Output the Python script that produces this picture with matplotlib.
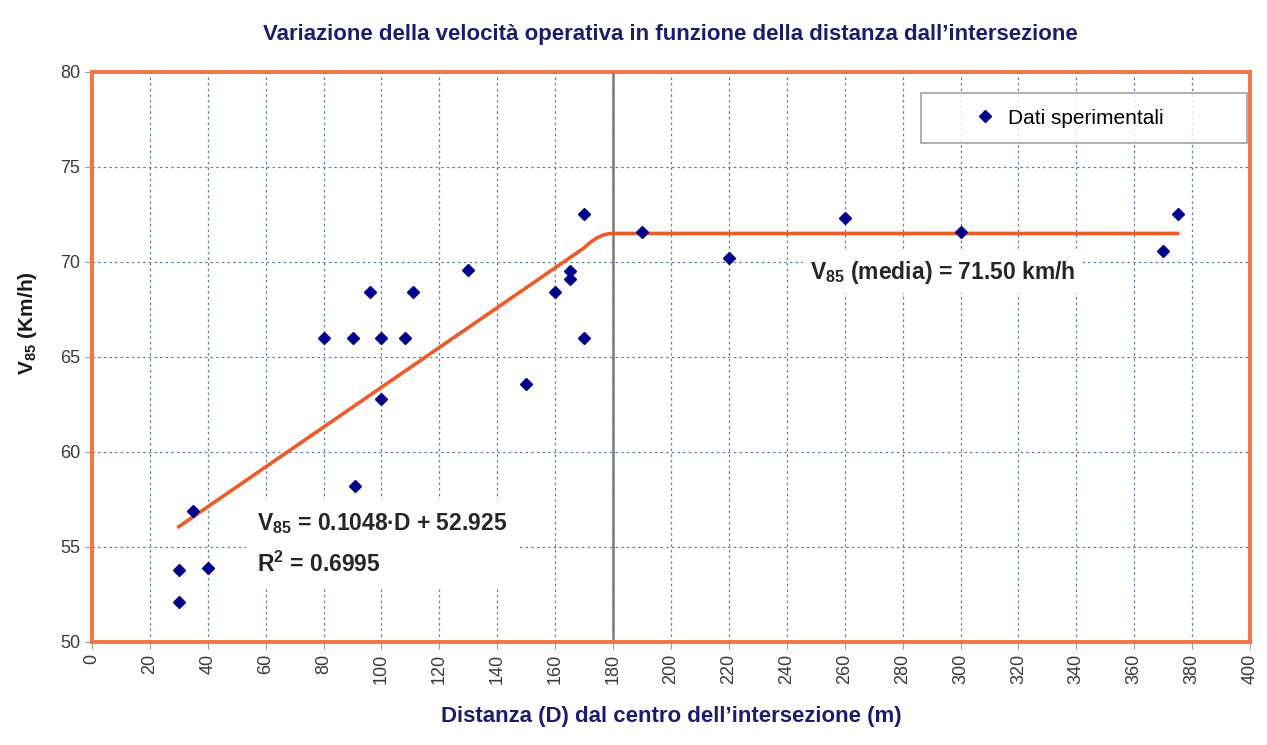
import matplotlib
matplotlib.use('Agg')
import matplotlib.pyplot as plt
import numpy as np

# Dati
distanza = [30, 30, 35, 40, 80, 90, 91, 96, 100, 100, 108, 111, 130, 150, 160,
            165, 165, 170, 170, 190, 220, 260, 300, 370, 375]
v85 = [52.1, 53.8, 56.9, 53.9, 66.0, 66.0, 58.2, 68.4, 66.0, 62.8, 66.0, 68.4, 69.6,
       63.6, 68.4, 69.1, 69.5, 66.0, 72.5, 71.6, 70.2, 72.3, 71.6, 70.6, 72.5]

# Retta di regressione e velocita media
pendenza = 0.1048
intercetta = 52.925
r2 = 0.6995
v_media = 71.50
d_soglia = 180
d_inizio, d_fine = 30, 375

plt.rcParams['font.family'] = ['Liberation Sans', 'DejaVu Sans']
plt.rcParams['mathtext.fontset'] = 'custom'
plt.rcParams['mathtext.rm'] = 'Liberation Sans:bold'
plt.rcParams['mathtext.it'] = 'Liberation Sans:bold'
plt.rcParams['mathtext.bf'] = 'Liberation Sans:bold'

arancio = '#F07444'
blu_scuro = '#1C1C6E'

fig = plt.figure(figsize=(12.67, 7.45), dpi=100)
ax = fig.add_axes([0.0726, 0.1383, 0.9140, 0.7651])

# linea di tendenza: retta fino a 170 m, raccordo, poi costante
d_retta = np.linspace(d_inizio, 170, 50)
d_curva = np.linspace(170, d_soglia, 12)
t = (d_curva - 170) / (d_soglia - 170)
v_170 = pendenza * 170 + intercetta
v_curva = v_170 + (v_media - v_170) * (1 - (1 - t) ** 2)
d_linea = np.concatenate([d_retta, d_curva, [d_fine]])
v_linea = np.concatenate([pendenza * d_retta + intercetta, v_curva, [v_media]])
ax.plot(d_linea, v_linea, color='#EE5A28', linewidth=2.6, zorder=2)

ax.axvline(d_soglia, color='#7A7A7A', linewidth=1.8, zorder=1.5)

ax.plot(distanza, v85, linestyle='', marker='D', markersize=6.5, color='#00008B',
        label='Dati sperimentali', zorder=4)

ax.set_xlim(0, 400)
ax.set_ylim(50, 80)
ax.set_xticks(np.arange(0, 401, 20))
ax.set_yticks(np.arange(50, 81, 5))
ax.grid(True, color='#5F7F9F', linestyle=(0, (2, 2.5)), linewidth=0.9)
ax.set_axisbelow(True)

for s in ax.spines.values():
    s.set_color(arancio)
    s.set_linewidth(2.8)

ax.tick_params(axis='x', labelrotation=90, labelsize=13, colors='#9A9A9A',
               labelcolor='#3A3A3A', length=5)
ax.tick_params(axis='y', labelsize=13, colors='#9A9A9A', labelcolor='#3A3A3A', length=5)

ax.text(57, 55.15, r'V$_{85}$ = 0.1048$\bullet$D + 52.925' + '\n' + r'R$^{2}$ = 0.6995',
        fontsize=16.5, fontweight='bold', color='#262626', va='center', ha='left',
        linespacing=1.75, zorder=3,
        bbox=dict(facecolor='white', edgecolor='none', pad=8))
ax.text(248, 69.45, r'V$_{85}$ (media) = %.2f km/h' % v_media,
        fontsize=16.5, fontweight='bold', color='#262626', va='center', ha='left',
        zorder=3, bbox=dict(facecolor='white', edgecolor='none', pad=5))

# legenda larga come in Excel, marker vicino al testo
leg = ax.legend(loc='upper left', bbox_to_anchor=(0.716, 0.875, 0.281, 0.088),
                mode='expand', fontsize=15, frameon=True, fancybox=False,
                borderpad=0.75, borderaxespad=0, handlelength=4.6, handletextpad=-1.2)
leg.get_frame().set_edgecolor('#8A8A8A')
leg.get_frame().set_linewidth(1.2)

fig.suptitle('Variazione della velocità operativa in funzione della distanza dall\u2019intersezione',
             x=0.529, y=0.968, fontsize=16, fontweight='bold', color=blu_scuro)
ax.set_xlabel('Distanza (D) dal centro dell\u2019intersezione (m)', fontsize=16,
              fontweight='bold', color=blu_scuro, labelpad=16)
ax.set_ylabel(r'V$_{85}$ (Km/h)', fontsize=15, fontweight='bold', color='#1A1A1A')
ax.yaxis.set_label_coords(-0.046, 0.56)

fig.savefig('out.png', dpi=100, facecolor='white')
